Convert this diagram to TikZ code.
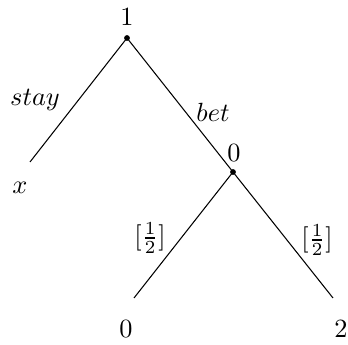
\documentclass[tikz,border=0pt]{standalone}
\usepackage{amsmath}
\usetikzlibrary{positioning}

\begin{document}
\begin{tikzpicture}[
    x=0.38pt,y=-0.38pt,
    dotnode/.style={circle,fill,inner sep=0pt,minimum size=2.2pt},
    branch/.style={line width=0.4pt},
    label/.style={inner sep=1pt},
  ]
  \useasboundingbox (0,0) rectangle (348,345);
  % decision and chance nodes
  \node[dotnode] (root) at (127,38) {};
  \node[dotnode] (chance) at (233,172) {};
  \coordinate (stayend) at (30,162);
  \coordinate (loend) at (134,298);
  \coordinate (hiend) at (333,298);
  % payoffs and values
  \node[label] (rootval) at (127,17) {$1$};
  \node[label] (chanceval) at (234,153) {$0$};
  \node[label] (stayval) at (20,188) {$x$};
  \node[label] (loval) at (126,329) {$0$};
  \node[label] (hival) at (341,329) {$2$};
  % branches
  \draw[branch] (root.center) -- (stayend);
  \draw[branch] (root.center) -- (chance.center);
  \draw[branch] (chance.center) -- (loend);
  \draw[branch] (chance.center) -- (hiend);
  \node[label] at (35,100) {$stay$};
  \node[label] at (213,112) {$bet$};
  \node[label] at (150,238) {$[\frac{1}{2}]$};
  \node[label] at (317,240) {$[\frac{1}{2}]$};
\end{tikzpicture}
\end{document}
